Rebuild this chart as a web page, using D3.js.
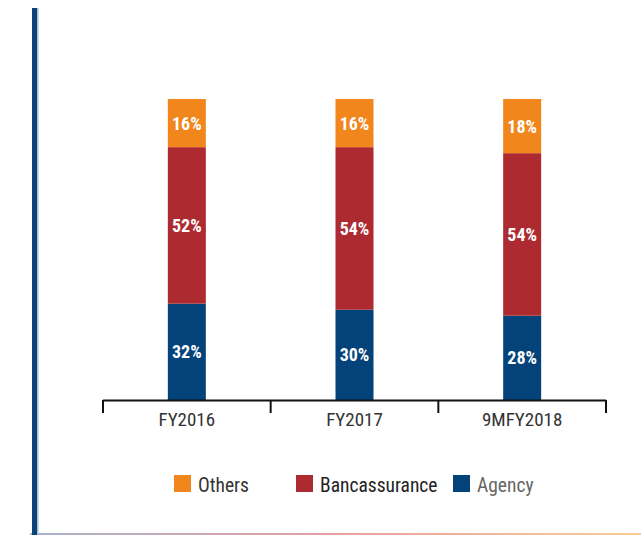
<!DOCTYPE html>
<html>
<head>
<meta charset="utf-8">
<script src="https://cdn.jsdelivr.net/npm/d3@7"></script>
<style>
  html, body { margin: 0; padding: 0; background: #fff; }
  svg { display: block; font-family: "Liberation Sans Narrow", "Roboto Condensed", "DejaVu Sans Condensed", "Arial Narrow", sans-serif; }
</style>
</head>
<body>
<svg id="chart" width="641" height="535"></svg>
<script>
const categories = ["FY2016", "FY2017", "9MFY2018"];
const seriesNames = ["Agency", "Bancassurance", "Others"];
const agency = [32, 30, 28];
const bancassurance = [52, 54, 54];
const others = [16, 16, 18];
const legendOrder = ["Others", "Bancassurance", "Agency"];

const colors = { Agency: "#04427a", Bancassurance: "#ad2b30", Others: "#f0861c" };
const legendTextColors = { Others: "#333", Bancassurance: "#222", Agency: "#666" };

const svg = d3.select("#chart");

const rows = categories.map((c, i) => ({
  category: c, Agency: agency[i], Bancassurance: bancassurance[i], Others: others[i]
}));
const stacked = d3.stack().keys(seriesNames)(rows);

const x = d3.scaleBand().domain(categories).range([103, 606]).padding(0);
const y = d3.scaleLinear().domain([0, 100]).range([400, 99]);
const barW = 38;

// gradient bottom rule
const defs = svg.append("defs");
const grad = defs.append("linearGradient").attr("id", "bottomGrad").attr("x1", "0").attr("x2", "1");
grad.append("stop").attr("offset", "0").attr("stop-color", "#a9b3cb");
grad.append("stop").attr("offset", "0.5").attr("stop-color", "#e8a0a2");
grad.append("stop").attr("offset", "1").attr("stop-color", "#f9cc96");
svg.append("rect").attr("x", 30).attr("y", 533).attr("width", 611).attr("height", 2).attr("fill", "url(#bottomGrad)");

// left vertical accent
svg.append("rect").attr("x", 37).attr("y", 8).attr("width", 1.5).attr("height", 527).attr("fill", "#a9bcd6");
svg.append("rect").attr("x", 32).attr("y", 8).attr("width", 5).attr("height", 527).attr("fill", "#0a4479");

// bars
const layers = svg.append("g").selectAll("g").data(stacked).join("g")
  .attr("fill", d => colors[d.key]);
layers.selectAll("rect").data(d => d).join("rect")
  .attr("x", d => x(d.data.category) + x.bandwidth() / 2 - barW / 2)
  .attr("width", barW)
  .attr("y", d => y(d[1]))
  .attr("height", d => y(d[0]) - y(d[1]));

// bar labels
const labels = svg.append("g");
stacked.forEach(layer => {
  labels.selectAll(null).data(layer).join("text")
    .attr("x", d => x(d.data.category) + x.bandwidth() / 2)
    .attr("y", d => (y(d[0]) + y(d[1])) / 2)
    .attr("dy", "0.36em")
    .attr("text-anchor", "middle")
    .attr("fill", "#fff")
    .attr("font-weight", "bold")
    .attr("font-size", 18)
    .text(d => (d[1] - d[0]) + "%");
});

// axis
const axisG = svg.append("g");
const [x0, x1] = x.range();
axisG.append("line").attr("x1", x0).attr("x2", x1).attr("y1", 400.5).attr("y2", 400.5)
  .attr("stroke", "#111").attr("stroke-width", 2);
const bounds = categories.map(c => x(c)).concat([x1]);
axisG.selectAll("line.tick").data(bounds).join("line").attr("class", "tick")
  .attr("x1", d => d).attr("x2", d => d).attr("y1", 400).attr("y2", 413)
  .attr("stroke", "#111").attr("stroke-width", 2);
axisG.selectAll("text").data(categories).join("text")
  .attr("x", d => x(d) + x.bandwidth() / 2)
  .attr("y", 426)
  .attr("text-anchor", "middle")
  .attr("font-size", 19)
  .attr("fill", "#333")
  .text(d => d);

// legend
const legendOffsets = { Others: 174, Bancassurance: 296, Agency: 453 };
const lg = svg.append("g").selectAll("g").data(legendOrder).join("g")
  .attr("transform", d => `translate(${legendOffsets[d]},475)`);
lg.append("rect").attr("width", 17).attr("height", 17).attr("fill", d => colors[d]);
lg.append("text").attr("x", 24).attr("y", 16.5).attr("font-size", 19.5)
  .attr("fill", d => legendTextColors[d]).text(d => d);
</script>
</body>
</html>
